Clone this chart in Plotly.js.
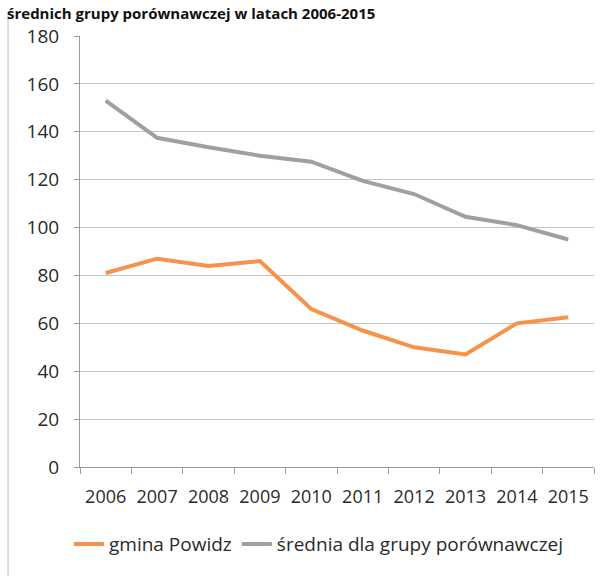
<!DOCTYPE html>
<html>
<head>
<meta charset="utf-8">
<script src="https://cdn.plot.ly/plotly-3.0.1.min.js"></script>
<style>html,body{margin:0;padding:0;background:#fff;}#chart{width:612px;height:576px;}</style>
</head>
<body>
<div id="chart"></div>
<script>
const years = ['2006','2007','2008','2009','2010','2011','2012','2013','2014','2015'];
const gminaPowidz = [81, 87, 84, 86, 66, 57, 50, 47, 60, 62.5];
const sredniaGrupy = [153, 137.5, 133.5, 130, 127.5, 119.5, 114, 104.5, 101, 95];
const yTicks = [0, 20, 40, 60, 80, 100, 120, 140, 160, 180];
const titleText = 'średnich grupy porównawczej w latach 2006-2015';

const fontFam = '"Open Sans", "Noto Sans", sans-serif';

const traces = [
  {x: years, y: gminaPowidz, name: 'gmina Powidz', type: 'scatter', mode: 'lines',
   line: {color: '#f7924a', width: 4}},
  {x: years, y: sredniaGrupy, name: 'średnia dla grupy porównawczej', type: 'scatter', mode: 'lines',
   line: {color: '#a0a0a0', width: 4}}
];

const layout = {
  width: 612, height: 576,
  margin: {l: 80, r: 18, t: 36, b: 109},
  paper_bgcolor: '#ffffff', plot_bgcolor: '#ffffff',
  font: {family: fontFam, color: '#2a2a2a', size: 16},
  showlegend: true,
  legend: {orientation: 'h', x: 0.465, xanchor: 'center', y: -0.135, yanchor: 'top',
           font: {family: fontFam, size: 19, color: '#2a2a2a'}, itemwidth: 30, tracegroupgap: 0},
  xaxis: {type: 'category', tickson: 'boundaries', ticks: 'outside', ticklen: 6, tickcolor: '#9a9a9a',
          showline: true, linecolor: '#9a9a9a', linewidth: 1, showgrid: false, zeroline: false,
          ticklabelstandoff: 13,
          tickfont: {family: fontFam, size: 18, color: '#2a2a2a'}, range: [-0.5, 9.5]},
  yaxis: {range: [0, 180], tickvals: yTicks, ticktext: yTicks.map(String), ticks: 'outside', ticklen: 5,
          tickcolor: '#9a9a9a', showline: true, linecolor: '#9a9a9a', linewidth: 1,
          showgrid: true, gridcolor: '#c4c4c4', gridwidth: 1, zeroline: false, ticklabelstandoff: 11,
          tickfont: {family: fontFam, size: 19, color: '#2a2a2a'}},
  annotations: [
    {xref: 'paper', yref: 'paper', x: -0.145, y: 1.081, xanchor: 'left', yanchor: 'top',
     text: '<b>' + titleText + '</b>', showarrow: false,
     font: {family: fontFam, size: 15, color: '#111'}}
  ],
  shapes: [
    {type: 'line', xref: 'paper', yref: 'paper', x0: -0.14, x1: -0.14, y0: 1.055, y1: -0.27,
     line: {color: '#bdbdbd', width: 1}}
  ]
};

Plotly.newPlot('chart', traces, layout, {displayModeBar: false, staticPlot: true});
</script>
</body>
</html>
